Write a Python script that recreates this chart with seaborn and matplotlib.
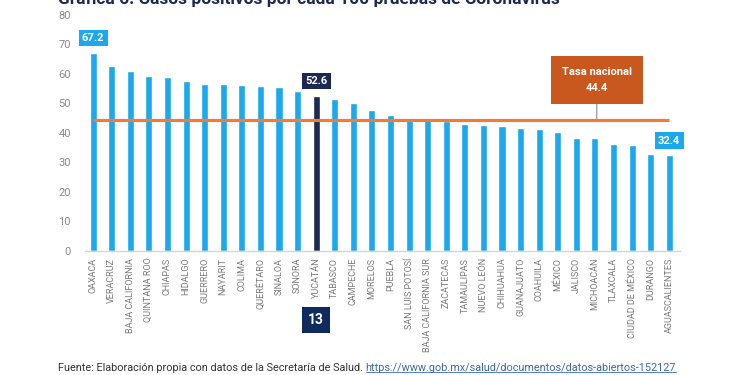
import numpy as np
import pandas as pd
import seaborn as sns
from matplotlib import pyplot as plt
from matplotlib import transforms
from matplotlib.lines import Line2D

estados = ["OAXACA", "VERACRUZ", "BAJA CALIFORNIA", "QUINTANA ROO", "CHIAPAS",
           "HIDALGO", "GUERRERO", "NAYARIT", "COLIMA", "QUERÉTARO", "SINALOA",
           "SONORA", "YUCATÁN", "TABASCO", "CAMPECHE", "MORELOS", "PUEBLA",
           "SAN LUIS POTOSÍ", "BAJA CALIFORNIA SUR", "ZACATECAS", "TAMAULIPAS",
           "NUEVO LEÓN", "CHIHUAHUA", "GUANAJUATO", "COAHUILA", "MÉXICO",
           "JALISCO", "MICHOACÁN", "TLAXCALA", "CIUDAD DE MÉXICO", "DURANGO",
           "AGUASCALIENTES"]
tasa = [67.2, 62.8, 61.0, 59.4, 59.0, 57.5, 56.7, 56.6, 56.4, 55.9, 55.4,
        54.3, 52.6, 51.5, 50.2, 47.9, 46.2, 44.7, 44.2, 43.9, 43.1, 42.6,
        42.2, 41.5, 41.2, 40.4, 38.4, 38.4, 36.2, 36.0, 32.9, 32.4]
tasa_nacional = 44.4
destacado = "YUCATÁN"
lugar = "13"
etiquetas = ["OAXACA", "YUCATÁN", "AGUASCALIENTES"]

azul = "#1ba8ec"
marino = "#1b2a52"
naranja = "#ee7d3b"
caja_naranja = "#c9581f"

df = pd.DataFrame({"estado": estados, "tasa": tasa})
colores = [marino if e == destacado else azul for e in estados]

sns.set_style("white")
plt.rcParams['font.family'] = ['Roboto', 'DejaVu Sans']

fig = plt.figure(figsize=(7.5, 3.75), dpi=100)
ax = fig.add_axes([0.113, 0.3315, 0.793, 0.6285])

sns.barplot(data=df, x="estado", y="tasa", hue="estado", palette=colores,
            legend=False, width=0.38, saturation=1, ax=ax, zorder=2)

ax.set_xlim(-0.45, len(estados) - 0.45)
ax.set_ylim(0, 80)
ax.set_yticks(np.arange(0, 81, 10))
ax.set_xlabel("")
ax.set_ylabel("")
ax.tick_params(axis="y", length=0, pad=10, labelsize=8, labelcolor="#8a8a8a")
ax.tick_params(axis="x", length=0, pad=5, labelsize=6.5, labelcolor="#7a7a7a",
               labelrotation=90)
for s in ["top", "right", "left"]:
    ax.spines[s].set_visible(False)
ax.spines["bottom"].set_color("#d5d5d5")
ax.spines["bottom"].set_linewidth(1.0)

# linea de la tasa nacional
ax.hlines(tasa_nacional, 0, len(estados) - 1, color=naranja, lw=2.3, zorder=3)

# etiquetas de valor
for e in etiquetas:
    i = estados.index(e)
    c = marino if e == destacado else azul
    ax.annotate(f"{tasa[i]:.1f}", xy=(i, tasa[i]), xytext=(0, 7),
                textcoords="offset points", ha="center", va="bottom",
                color="white", fontsize=8, fontweight="bold",
                bbox=dict(boxstyle="square,pad=0.3", fc=c, ec="none"), zorder=4)

# caja de la tasa nacional
ax.annotate(f"Tasa nacional\n{tasa_nacional}", xy=(27.1, tasa_nacional),
            xytext=(0, 28.5), textcoords="offset points", ha="center",
            va="center", color="white", fontsize=8, fontweight="bold",
            linespacing=1.7,
            bbox=dict(boxstyle="square,pad=1.0", fc=caja_naranja, ec="none"),
            arrowprops=dict(arrowstyle="-", color="#8a8a8a", lw=0.8,
                            shrinkA=0, shrinkB=1),
            zorder=4)

# lugar de Yucatan
trans = transforms.blended_transform_factory(ax.transData, fig.transFigure)
ax.text(estados.index(destacado), 1 - 320 / 375, lugar, transform=trans,
        ha="center", va="center", color="white", fontsize=10, fontweight="bold",
        bbox=dict(boxstyle="square,pad=0.45", fc="#0f2a5e", ec="none"))

# titulo (recortado en el original)
fig.text(58 / 750, 1 - 4 / 375, "Gráfica 6. Casos positivos por cada 100 pruebas de Coronavirus",
         ha="left", va="baseline", fontsize=12.5, fontweight="bold", color="#1b2a52")

# fuente
t1 = fig.text(58 / 750, 1 - 368 / 375,
              "Fuente: Elaboración propia con datos de la Secretaría de Salud. ",
              ha="left", va="center", fontsize=7.8, color="#333333")
t2 = ax.annotate("https://www.gob.mx/salud/documentos/datos-abiertos-152127",
                 xy=(1, 0.5), xycoords=t1, ha="left", va="center",
                 fontsize=7.8, color="#3b6aa8", annotation_clip=False)

fig.canvas.draw()
bb = t2.get_window_extent()
fig.add_artist(Line2D([bb.x0, bb.x1], [bb.y0 + 1, bb.y0 + 1], transform=None,
                      color="#3b6aa8", lw=0.6))

plt.savefig("out.png", dpi=100)
